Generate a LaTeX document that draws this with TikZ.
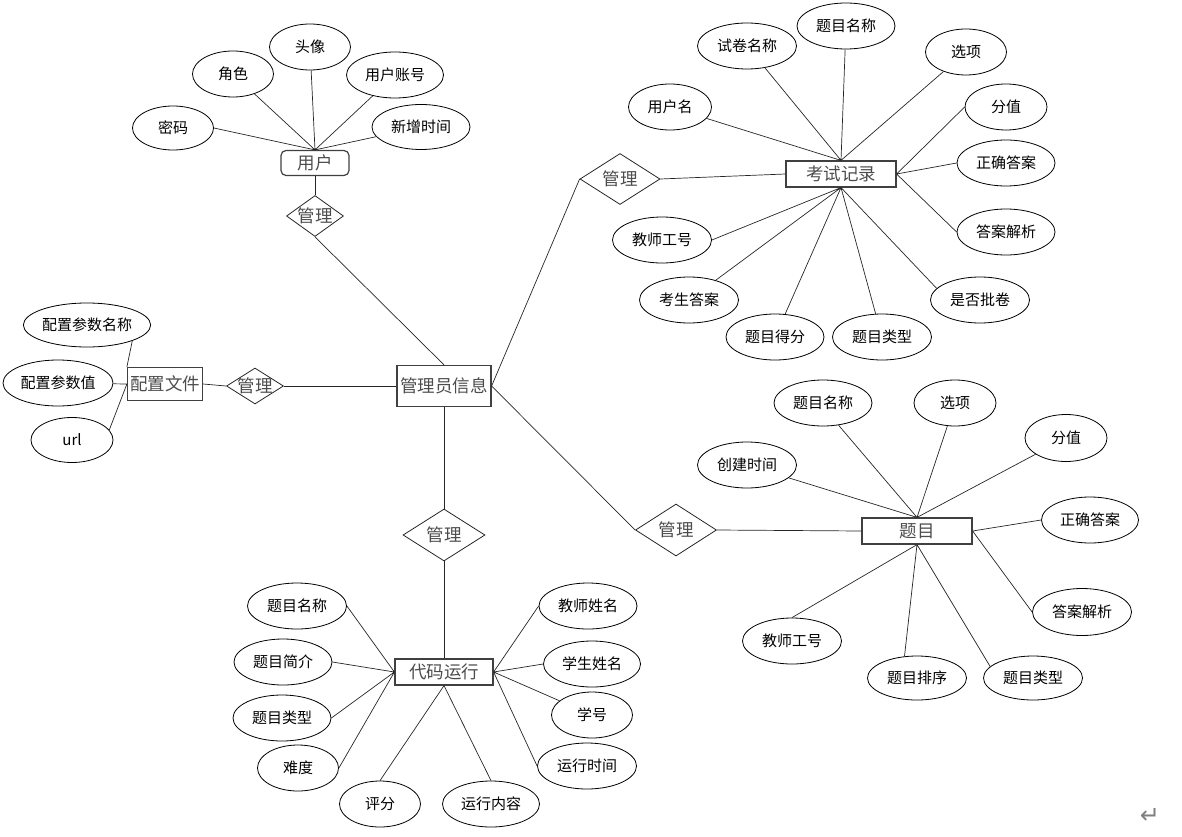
\documentclass[tikz,border=0pt]{standalone}
\usepackage{fontspec}
\newfontfamily\cjk{Noto Sans CJK SC}
\newfontfamily\symfont{DejaVu Sans}
\usetikzlibrary{shapes.geometric}

\tikzset{
  attr/.style={ellipse, draw=black, line width=0.8pt, inner sep=0pt, minimum height=46pt, font=\cjk\fontsize{15pt}{15pt}\selectfont},
  entity/.style={rectangle, draw=black!75, line width=1.2pt, inner sep=0pt, text=black!70, font=\cjk\fontsize{17.5pt}{17.5pt}\selectfont},
  rel/.style={diamond, draw=black!85, line width=0.8pt, inner sep=0pt, text=black!70, font=\cjk\fontsize{17.5pt}{17.5pt}\selectfont},
  link/.style={draw=black!85, line width=0.7pt}
}

\begin{document}
\begin{tikzpicture}[x=1pt,y=-1pt]
  \useasboundingbox (0,0) rectangle (1182,837);

  % user
  \node[entity, rounded corners=5pt, minimum width=68pt, minimum height=25pt] (user) at (315,163) {用户};
  \node[rel, minimum width=57pt, minimum height=41pt] (mgUser) at (315,216) {\makebox[0pt]{管理}};
  \node[attr, minimum width=81pt, minimum height=44pt] (pwd) at (173,128) {密码};
  \node[attr, minimum width=81pt] (role) at (233,74) {角色};
  \node[attr, minimum width=81pt] (avatar) at (310,47) {头像};
  \node[attr, minimum width=97pt] (account) at (395,75) {用户账号};
  \node[attr, minimum width=98pt, minimum height=45pt] (addtime) at (421,127) {新增时间};

  % admin
  \node[entity, minimum width=94pt, minimum height=41pt] (admin) at (444,386) {管理员信息};

  % config
  \node[entity, minimum width=75pt, minimum height=33pt] (config) at (165,384) {配置文件};
  \node[rel, minimum width=57pt, minimum height=36pt] (mgConfig) at (255,386) {\makebox[0pt]{管理}};
  \node[attr, minimum width=125pt, minimum height=44pt] (cfgName) at (87,325) {配置参数名称};
  \node[attr, minimum width=110pt] (cfgValue) at (58,383) {配置参数值};
  \node[attr, minimum width=82pt, minimum height=45pt] (url) at (72,440) {url};

  % exam record
  \node[entity, minimum width=110pt, minimum height=26pt] (exam) at (841,174) {考试记录};
  \node[rel, minimum width=80pt, minimum height=51pt] (mgExam) at (620,179) {\makebox[0pt]{管理}};
  \node[attr, minimum width=83pt] (eUser) at (670,107) {用户名};
  \node[attr, minimum width=99pt] (ePaper) at (747,46) {试卷名称};
  \node[attr, minimum width=98pt] (eTitle) at (846,26) {题目名称};
  \node[attr, minimum width=81pt] (eOption) at (966,52) {选项};
  \node[attr, minimum width=82pt] (eScore) at (1006,107) {分值};
  \node[attr, minimum width=98pt] (eAnswer) at (1006,163) {正确答案};
  \node[attr, minimum width=98pt] (eAnalysis) at (1006,232) {答案解析};
  \node[attr, minimum width=99pt] (eMarked) at (980,300) {是否批卷};
  \node[attr, minimum width=99pt] (eType) at (882,337) {题目类型};
  \node[attr, minimum width=98pt] (eGot) at (775,337) {题目得分};
  \node[attr, minimum width=99pt] (eStuAns) at (689,300) {考生答案};
  \node[attr, minimum width=99pt] (eTeacher) at (662,240) {教师工号};

  % question
  \node[entity, minimum width=110pt, minimum height=26pt] (ques) at (917,531) {题目};
  \node[rel, minimum width=81pt, minimum height=52pt] (mgQues) at (676,530) {\makebox[0pt]{管理}};
  \node[attr, minimum width=98pt] (qTitle) at (823,403) {题目名称};
  \node[attr, minimum width=82pt] (qOption) at (955,403) {选项};
  \node[attr, minimum width=82pt, minimum height=47pt] (qScore) at (1066,438) {分值};
  \node[attr, minimum width=97pt] (qAnswer) at (1090,520) {正确答案};
  \node[attr, minimum width=99pt, minimum height=47pt] (qAnalysis) at (1082,612) {答案解析};
  \node[attr, minimum width=99pt, minimum height=44pt] (qType) at (1033,678) {题目类型};
  \node[attr, minimum width=99pt, minimum height=44pt] (qOrder) at (917,678) {题目排序};
  \node[attr, minimum width=99pt] (qTeacher) at (792,641) {教师工号};
  \node[attr, minimum width=99pt] (qCreate) at (747,465) {创建时间};

  % code run
  \node[entity, minimum width=98pt, minimum height=26pt] (code) at (444,672) {代码运行};
  \node[rel, minimum width=82pt, minimum height=52pt] (mgCode) at (444,535) {\makebox[0pt]{管理}};
  \node[attr, minimum width=99pt] (cTitle) at (297,606) {题目名称};
  \node[attr, minimum width=98pt] (cIntro) at (283,662) {题目简介};
  \node[attr, minimum width=98pt] (cType) at (282,718) {题目类型};
  \node[attr, minimum width=81pt] (cLevel) at (298,768) {难度};
  \node[attr, minimum width=81pt] (cRate) at (380,804) {评分};
  \node[attr, minimum width=97pt] (cContent) at (491,804) {运行内容};
  \node[attr, minimum width=98pt] (cTeacher) at (588,606) {教师姓名};
  \node[attr, minimum width=97pt] (cStudent) at (592,664) {学生姓名};
  \node[attr, minimum width=81pt] (cNo) at (592,715) {学号};
  \node[attr, minimum width=99pt] (cTime) at (587,766) {运行时间};

  \node[text=black!50, font=\symfont\fontsize{24pt}{24pt}\selectfont] (ret) at (1150,816) {↵};

  % relations
  \draw[link] (user) -- (mgUser);
  \draw[link] (mgUser.south) -- (admin.north);
  \draw[link] (admin.west) -- (mgConfig.east);
  \draw[link] (mgConfig.west) -- (config.east);
  \draw[link] (admin.east) -- (mgExam.west);
  \draw[link] (mgExam.east) -- (exam.west);
  \draw[link] (admin.east) -- (mgQues.west);
  \draw[link] (mgQues.east) -- (ques.west);
  \draw[link] (admin.south) -- (mgCode.north);
  \draw[link] (mgCode.south) -- (code.north);

  % attributes
  \draw[link] (user.north) -- (pwd.east) (user.north) -- (role) (user.north) -- (avatar)
    (user.north) -- (account) (user.north) -- (addtime);
  \draw[link] (config.north west) -- (cfgName.south east) (config.west) -- (cfgValue)
    (config.west) -- (url.15);
  \draw[link] (exam.north) -- (eUser) (exam.north) -- (ePaper) (exam.north) -- (eTitle)
    (exam.north) -- (eOption);
  \draw[link] (exam.east) -- (eScore.west) (exam.east) -- (eAnswer.west) (exam.east) -- (eAnalysis.west);
  \draw[link] (exam.south) -- (eTeacher.east) (exam.south) -- (eStuAns) (exam.south) -- (eGot)
    (exam.south) -- (eType) (exam.south) -- (eMarked.165);
  \draw[link] (ques.north) -- (qCreate) (ques.north) -- (qTitle.-55) (ques.north) -- (qOption)
    (ques.north) -- (qScore);
  \draw[link] (ques.east) -- (qAnswer.west) (ques.east) -- (qAnalysis.west);
  \draw[link] (ques.south) -- (qTeacher.north) (ques.south) -- (qOrder.120) (ques.south) -- (qType.165);
  \draw[link] (code.west) -- (cTitle.east) (code.west) -- (cIntro.east) (code.west) -- (cType.east)
    (code.west) -- (cLevel.east);
  \draw[link] (code.east) -- (cTeacher.west) (code.east) -- (cStudent.west) (code.east) -- (cNo)
    (code.east) -- (cTime.west);
  \draw[link] (code.south) -- (cRate.north) (code.south) -- (cContent.north);
\end{tikzpicture}
\end{document}
